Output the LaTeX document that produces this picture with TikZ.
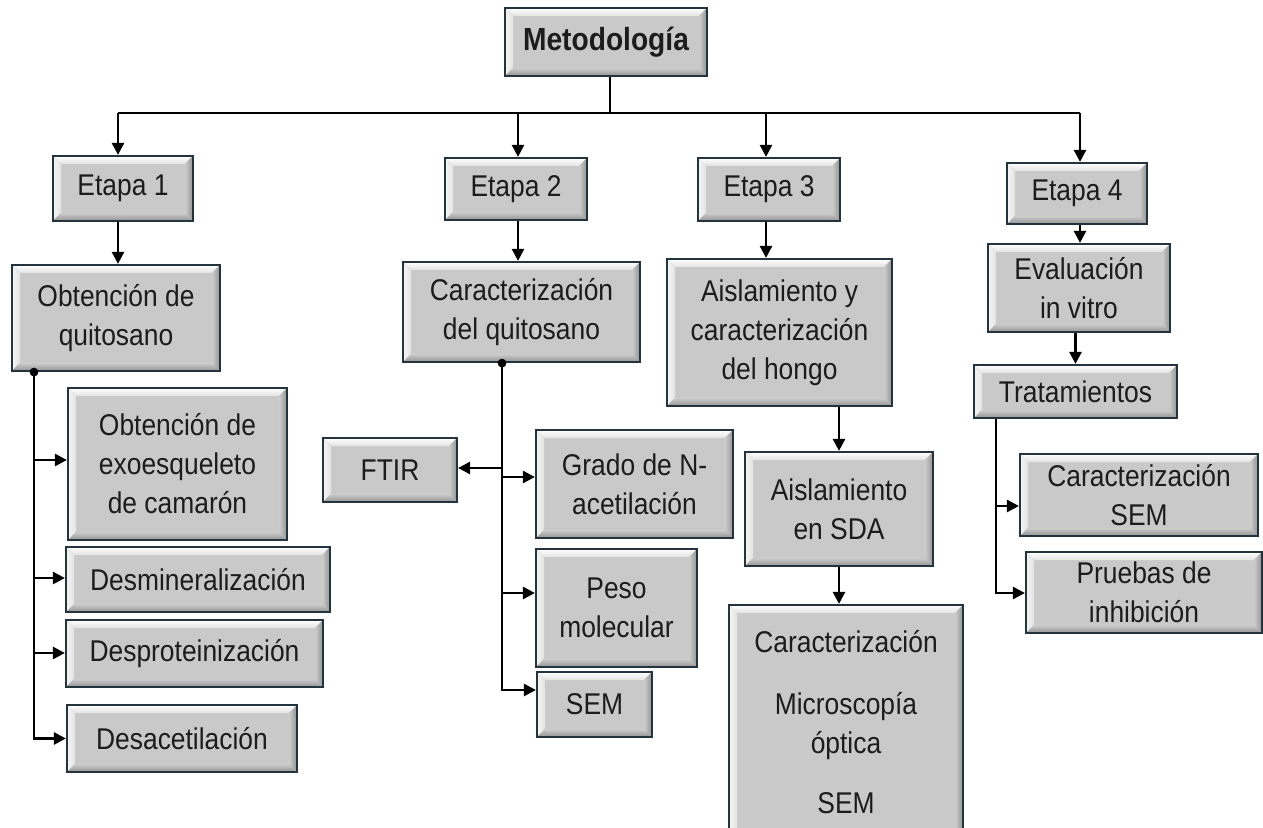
\documentclass[tikz,border=0pt]{standalone}
\usepackage{fontspec}
\setmainfont{Liberation Sans}[FakeStretch=0.88]
\usetikzlibrary{arrows.meta}
\definecolor{boxfill}{HTML}{C9C9C9}
\definecolor{bord}{HTML}{24343E}
\definecolor{txt}{HTML}{1C1C1C}
\tikzset{
  bx/.style={draw=bord, line width=1.1pt, fill=boxfill, align=center, inner sep=0pt,
    text=txt, font=\fontsize{15}{19.5}\selectfont,
    path picture={
      \coordinate (pNW) at (path picture bounding box.north west);
      \coordinate (pNE) at (path picture bounding box.north east);
      \coordinate (pSW) at (path picture bounding box.south west);
      \coordinate (pSE) at (path picture bounding box.south east);
      \fill[top color=white, bottom color=gray!22] (pNW) -- (pNE) -- ([shift={(-4pt,-4pt)}]pNE) -- ([shift={(4pt,-4pt)}]pNW) -- cycle;
      \fill[left color=gray!8, right color=gray!22] (pNW) -- ([shift={(4pt,-4pt)}]pNW) -- ([shift={(4pt,4pt)}]pSW) -- (pSW) -- cycle;
      \fill[left color=gray!40, right color=gray!85] (pNE) -- (pSE) -- ([shift={(-4pt,4pt)}]pSE) -- ([shift={(-4pt,-4pt)}]pNE) -- cycle;
      \fill[top color=gray!40, bottom color=gray!85] (pSW) -- (pSE) -- ([shift={(-4pt,4pt)}]pSE) -- ([shift={(4pt,4pt)}]pSW) -- cycle;
    }},
  ln/.style={line width=1.3pt, black},
  arr/.style={ln, -{Triangle[length=6pt,width=6pt]}},
}
\newcommand\bxn[6]{\node[bx, minimum width={(#4-#2)*0.5pt}, minimum height={(#5-#3)*0.5pt}] (#1) at ({(#2+#4)/2},{(#3+#5)/2}) {#6};}
\begin{document}
\begin{tikzpicture}[x=0.5pt,y=-0.5pt]
\useasboundingbox (0,0) rectangle (1263,828);
\fill[white] (0,0) rectangle (1263,828);
% boxes
\bxn{met}{505}{8}{707}{76}{\bfseries\fontsize{16}{19.5}\selectfont Metodología}
\bxn{e1}{53}{156}{193}{221}{Etapa 1}
\bxn{e2}{445}{158}{587}{220}{Etapa 2}
\bxn{e3}{698}{158}{840}{221}{Etapa 3}
\bxn{e4}{1007}{163}{1147}{224}{Etapa 4}
\bxn{oq}{12}{265}{220}{371}{Obtención de\\quitosano}
\bxn{cq}{403}{262}{640}{362}{Caracterización\\del quitosano}
\bxn{ah}{667}{259}{892}{406}{Aislamiento y\\caracterización\\del hongo}
\bxn{ev}{988}{244}{1170}{332}{Evaluación\\in vitro}
\bxn{ex}{68}{388}{287}{540}{Obtención de\\exoesqueleto\\de camarón}
\bxn{dm}{66}{547}{330}{612}{Desmineralización}
\bxn{dp}{66}{620}{323}{687}{Desproteinización}
\bxn{da}{67}{705}{297}{772}{Desacetilación}
\bxn{ftir}{323}{438}{457}{502}{FTIR}
\bxn{gn}{536}{430}{733}{538}{Grado de N-\\acetilación}
\bxn{pm}{536}{549}{697}{667}{Peso\\molecular}
\bxn{sem}{537}{672}{652}{737}{SEM}
\bxn{sda}{745}{452}{933}{566}{Aislamiento\\en SDA}
\bxn{cm}{729}{605}{963}{840}{Caracterización\\[11.5pt]Microscopía\\óptica\\[10.5pt]SEM}
\bxn{tr}{974}{365}{1177}{418}{Tratamientos}
\bxn{cs}{1020}{454}{1258}{536}{Caracterización\\SEM}
\bxn{pi}{1026}{552}{1262}{633}{Pruebas de\\inhibición}
% top distribution
\coordinate (h1) at (118,113);
\coordinate (h2) at (518,113);
\coordinate (h3) at (766,113);
\coordinate (h4) at (1080,113);
\draw[ln] (met.south -| 610,0) -- (610,113);
\draw[ln] (h1) -- (h4);
\draw[arr] (h1) -- (h1 |- e1.north);
\draw[arr] (h2) -- (h2 |- e2.north);
\draw[arr] (h3) -- (h3 |- e3.north);
\draw[arr] (h4) -- (h4 |- e4.north);
\draw[arr] (h1 |- e1.south) -- (h1 |- oq.north);
\draw[arr] (h2 |- e2.south) -- (h2 |- cq.north);
\draw[arr] (h3 |- e3.south) -- (h3 |- ah.north);
\draw[arr] (h4 |- e4.south) -- (h4 |- ev.north);
\draw[arr] (tr.north |- ev.south) -- (tr.north);
\draw[arr] (sda.north |- ah.south) -- (sda.north);
\draw[arr] (sda.south) -- (sda.south |- cm.north);
% column 1
\coordinate (t1) at (oq.south -| 34,0);
\draw[arr] (t1) |- (da.west);
\draw[arr] (t1 |- 0,460) -- (ex.west |- 0,460);
\draw[arr] (t1 |- 0,578) -- (dm.west |- 0,578);
\draw[arr] (t1 |- 0,653) -- (dp.west |- 0,653);
\fill (t1) circle (2.2pt);
% column 2
\coordinate (t2) at (cq.south -| 502,0);
\draw[arr] (t2) |- (sem.west |- 0,690);
\draw[arr] (t2 |- 0,468) -- (ftir.east |- 0,468);
\draw[arr] (t2 |- 0,477) -- (gn.west |- 0,477);
\draw[arr] (t2 |- 0,593) -- (pm.west |- 0,593);
\fill (t2) circle (2.2pt);
% column 4
\coordinate (t4) at (tr.south -| 996,0);
\draw[arr] (t4) |- (pi.west |- 0,593);
\draw[arr] (t4 |- 0,506) -- (cs.west |- 0,506);
\end{tikzpicture}
\end{document}
